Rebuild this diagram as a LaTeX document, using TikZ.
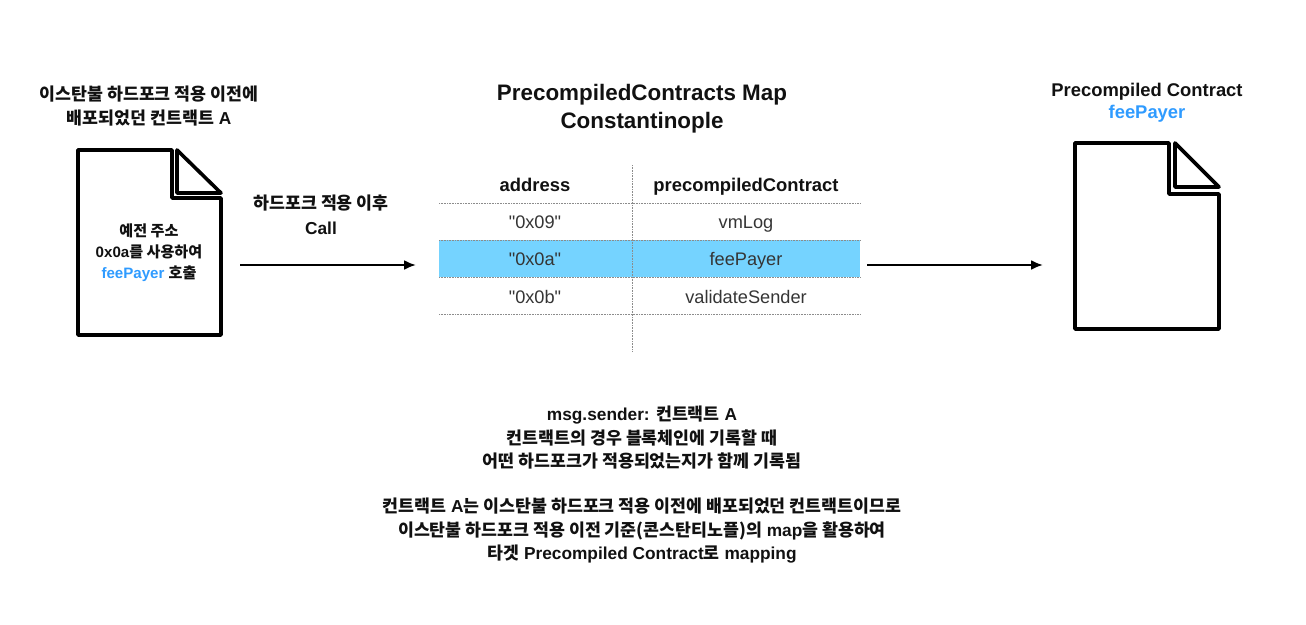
\documentclass[tikz,border=0pt]{standalone}
\usepackage{fontspec}
\setmainfont{Liberation Sans}
\newfontfamily\kr{Noto Sans CJK KR}
\newfontfamily\plainsans{Liberation Sans}
\usetikzlibrary{arrows.meta}
\definecolor{feeblue}{HTML}{2F9BFF}
\definecolor{rowblue}{HTML}{75D3FF}
\definecolor{ink}{HTML}{111111}
\newcommand{\K}[1]{{\kr #1}}
\tikzset{
  x=1pt,y=-1pt,
  doc/.style={line width=3.6pt,line join=round,line cap=round,draw=black},
  holder/.style={inner sep=0pt,outer sep=0pt},
  lab/.style={text=ink,font=\bfseries\fontsize{17.3}{23.5}\selectfont,align=center,inner sep=0pt},
  small/.style={text=ink,font=\bfseries\fontsize{15.1}{20.8}\selectfont,align=center,inner sep=0pt},
  head/.style={text=ink,font=\bfseries\fontsize{22.4}{27.5}\selectfont,align=center,inner sep=0pt},
  sub/.style={text=ink,font=\bfseries\fontsize{18.4}{22}\selectfont,align=center,inner sep=0pt},
  th/.style={text=ink,font=\bfseries\fontsize{18.4}{20}\selectfont,inner sep=0pt,text height=13pt,text depth=4pt},
  td/.style={text=ink!85,font=\plainsans\fontsize{18.2}{20}\selectfont,inner sep=0pt,text height=13pt,text depth=4pt},
  rule/.style={draw=black!45,line width=0.8pt,dash pattern=on 0.8pt off 0.8pt},
  flow/.style={draw=black,line width=2.2pt,-{Latex[length=12pt,width=10pt]}},
}
\begin{document}
\begin{tikzpicture}
\useasboundingbox (0,0) rectangle (1306,624);
% highlighted row
\node[holder,fill=rowblue,minimum width=421pt,minimum height=37pt] (rowfee) at (649.5,258.5) {};
% table rules
\coordinate (vt) at (632,165); \coordinate (vb) at (632,352);
\coordinate (h1l) at (439,203); \coordinate (h1r) at (860,203);
\coordinate (h2l) at (439,240); \coordinate (h2r) at (860,240);
\coordinate (h3l) at (439,277); \coordinate (h3r) at (860,277);
\coordinate (h4l) at (439,314); \coordinate (h4r) at (860,314);
\draw[rule] (vt) -- (vb);
\draw[rule] (h1l) -- (h1r);
\draw[rule] (h2l) -- (h2r);
\draw[rule] (h3l) -- (h3r);
\draw[rule] (h4l) -- (h4r);
% table text
\node[th] (thA) at (535,187) {address};
\node[th] (thB) at (746,187) {precompiledContract};
\node[td] (a1) at (535,224) {"0x09"};
\node[td] (b1) at (746,224) {vmLog};
\node[td] (a2) at (535,261) {"0x0a"};
\node[td] (b2) at (746,261) {feePayer};
\node[td] (a3) at (535,299) {"0x0b"};
\node[td] (b3) at (746,299) {validateSender};
% documents
\node[holder,minimum width=143pt,minimum height=185pt] (docA) at (149.5,242.5) {};
\draw[doc] (docA.north west) -- (172,150) -- (172,198) -- (221,198) -- (docA.south east) -- (docA.south west) -- cycle;
\draw[doc] (177,150) -- (177,193) -- (221,193) -- cycle;
\node[holder,minimum width=144pt,minimum height=186pt] (docB) at (1147,236) {};
\draw[doc] (docB.north west) -- (1169,143) -- (1169,194) -- (1219,194) -- (docB.south east) -- (docB.south west) -- cycle;
\draw[doc] (1175,143) -- (1175,187) -- (1219,187) -- cycle;
% titles
\node[lab] (titleA) at (149,106) {\K{이스탄불 하드포크 적용 이전에}\\\K{배포되었던 컨트랙트} A};
\node[head] (titleM) at (642,108.5) {PrecompiledContracts Map\\Constantinople};
\node[sub] (titleB) at (1147,102.5) {Precompiled Contract\\\textcolor{feeblue}{feePayer}};
\node[small] (inA) at (149,252.5) {\K{예전 주소}\\0x0a\K{를 사용하여}\\\textcolor{feeblue}{feePayer} \K{호출}};
\node[lab,font=\bfseries\fontsize{17.3}{25}\selectfont] (callL) at (321,214.5) {\K{하드포크 적용 이후}\\Call};
% connectors
\coordinate (flowlevel) at (0,265);
\draw[flow,shorten <=19pt,shorten >=23pt] (docA.east |- flowlevel) -- (rowfee.west |- flowlevel);
\draw[flow,shorten <=7pt,shorten >=32pt] (rowfee.east |- flowlevel) -- (docB.west |- flowlevel);
% notes
\node[lab] (note1) at (642,438) {msg.sender: \K{컨트랙트} A\\\K{컨트랙트의 경우 블록체인에 기록할 때}\\\K{어떤 하드포크가 적용되었는지가 함께 기록됨}};
\node[lab] (note2) at (642,531) {\K{컨트랙트} A\K{는 이스탄불 하드포크 적용 이전에 배포되었던 컨트랙트이므로}\\\K{이스탄불 하드포크 적용 이전 기준(콘스탄티노플)의} map\K{을 활용하여}\\\K{타겟} Precompiled Contract\K{로} mapping};
\end{tikzpicture}
\end{document}
